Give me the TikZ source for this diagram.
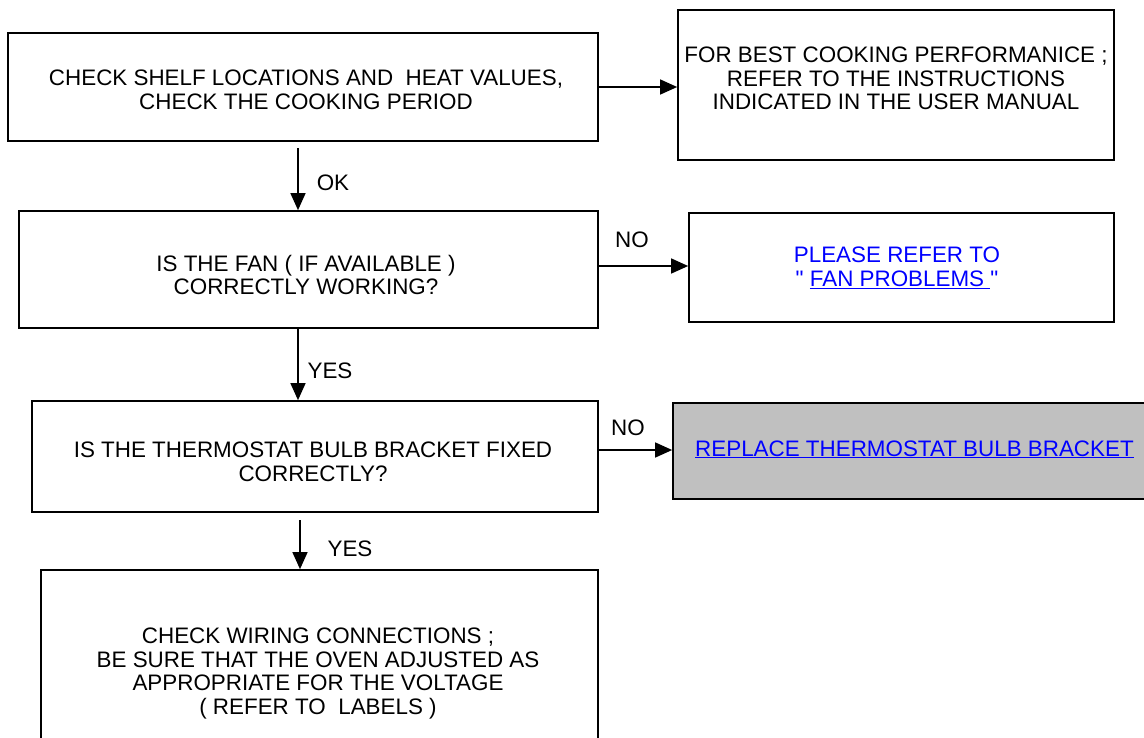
\documentclass[tikz,border=0pt]{standalone}
\usepackage{fontspec}
\setmainfont{Liberation Sans}[Ligatures=TeXOff]
\usetikzlibrary{arrows.meta}
\definecolor{linkblue}{RGB}{0,0,255}
\definecolor{boxgray}{RGB}{192,192,192}
\begin{document}
\begin{tikzpicture}[x=1pt,y=-1pt,
  box/.style={draw=black,line width=1.7pt,rectangle,inner sep=0pt},
  txt/.style={align=center,font=\fontsize{22.4}{23.5}\selectfont,inner sep=0pt},
  lbl/.style={font=\fontsize{22.4}{23.5}\selectfont,inner sep=0pt},
  link/.style={text=linkblue},
  arr/.style={line width=1.4pt,-{Triangle[length=17pt,width=15pt]}}]
\useasboundingbox (0,0) rectangle (1144,737);
\clip (0,0) rectangle (1144,737);
% boxes
\node[box,minimum width=590pt,minimum height=108pt] (b1) at (303,87) {};
\node[box,minimum width=436pt,minimum height=150pt] (b2) at (896,85) {};
\node[box,minimum width=579pt,minimum height=117pt] (b3) at (308.5,269.5) {};
\node[box,minimum width=425pt,minimum height=109pt] (b4) at (901.5,267.5) {};
\node[box,minimum width=566pt,minimum height=111pt] (b5) at (315,456.5) {};
\node[box,fill=boxgray,minimum width=477pt,minimum height=96pt] (b6) at (911.5,451) {};
\node[box,minimum width=557pt,minimum height=180pt] (b7) at (319.5,660) {};
% texts
\node[txt] (t1) at (306,90) {CHECK SHELF LOCATIONS AND\ \ HEAT VALUES,\\CHECK THE COOKING PERIOD};
\node[txt] (t2) at (896,78.5) {FOR BEST COOKING PERFORMANICE ;\\REFER TO THE INSTRUCTIONS\\INDICATED IN THE USER MANUAL};
\node[txt] (t3) at (306,275) {IS THE FAN ( IF AVAILABLE )\\CORRECTLY WORKING?};
\node[txt,link] (t4) at (897,268) {PLEASE REFER TO\\"\ \underline{FAN PROBLEMS\ }"};
\node[txt] (t5) at (313,462) {IS THE THERMOSTAT BULB BRACKET FIXED\\CORRECTLY?};
\node[lbl,link,anchor=base west] (t6) at (695,456) {\underline{REPLACE THERMOSTAT BULB BRACKET}};
\node[txt] (t7) at (318,673.5) {CHECK WIRING CONNECTIONS ;\\BE SURE THAT THE OVEN ADJUSTED AS\\APPROPRIATE FOR THE VOLTAGE\\( REFER TO\ \ LABELS )};
% labels
\node[lbl] (l1) at (333,183) {OK};
\node[lbl] (l2) at (632,240) {NO};
\node[lbl] (l3) at (330,371) {YES};
\node[lbl] (l4) at (628,428) {NO};
\node[lbl] (l5) at (350,549) {YES};
% connector helper coordinates
\coordinate (s1) at (298,148);
\coordinate (s2) at (300,520);
\coordinate (y3) at (0,266);
\coordinate (y5) at (0,450);
% connectors
\draw[arr] (b1.east) -- (b1.east -| b2.west);
\draw[arr] (s1) -- (s1 |- b3.north);
\draw[arr] (b3.east |- y3) -- (b4.west |- y3);
\draw[arr] (b3.south -| s1) -- (s1 |- b5.north);
\draw[arr] (b5.east |- y5) -- (b6.west |- y5);
\draw[arr] (s2) -- (s2 |- b7.north);
\end{tikzpicture}
\end{document}
